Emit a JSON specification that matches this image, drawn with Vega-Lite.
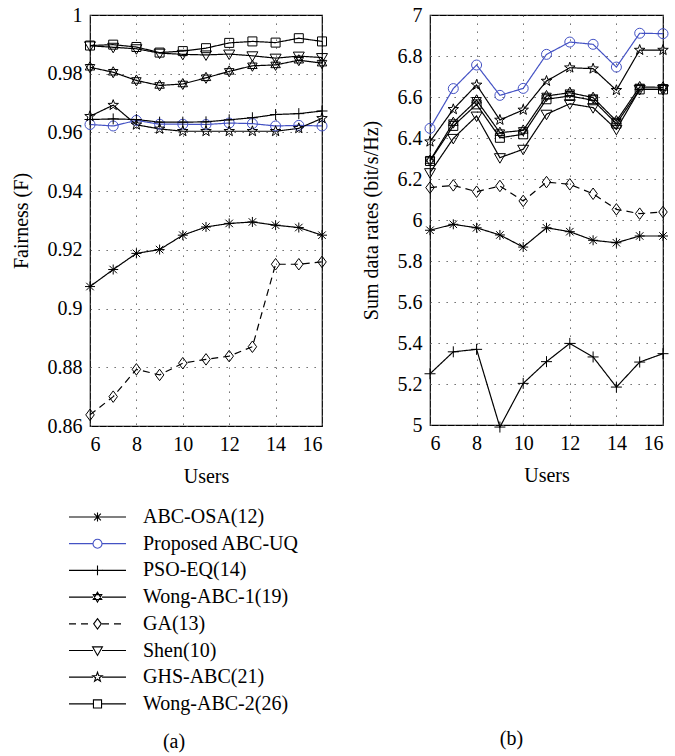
{
  "$schema": "https://vega.github.io/schema/vega-lite/v6.json",
  "background": "white",
  "padding": {"left": 10, "top": 4, "right": 5, "bottom": 5},
  "bounds": "flush",
  "spacing": 108,
  "resolve": {
    "scale": {"color": "independent", "shape": "independent", "stroke": "independent", "strokeDash": "independent"},
    "legend": {"color": "independent", "shape": "independent", "stroke": "independent", "strokeDash": "independent"}
  },
  "datasets": {
    "fair": [
      {"alg": "ABC-OSA(12)", "users": 6, "value": 0.9075}, {"alg": "ABC-OSA(12)", "users": 7, "value": 0.9133}, {"alg": "ABC-OSA(12)", "users": 8, "value": 0.9188}, {"alg": "ABC-OSA(12)", "users": 9, "value": 0.9201}, {"alg": "ABC-OSA(12)", "users": 10, "value": 0.925}, {"alg": "ABC-OSA(12)", "users": 11, "value": 0.9278}, {"alg": "ABC-OSA(12)", "users": 12, "value": 0.929}, {"alg": "ABC-OSA(12)", "users": 13, "value": 0.9295}, {"alg": "ABC-OSA(12)", "users": 14, "value": 0.9284}, {"alg": "ABC-OSA(12)", "users": 15, "value": 0.9276}, {"alg": "ABC-OSA(12)", "users": 16, "value": 0.925},
      {"alg": "Proposed ABC-UQ", "users": 6, "value": 0.9627}, {"alg": "Proposed ABC-UQ", "users": 7, "value": 0.9622}, {"alg": "Proposed ABC-UQ", "users": 8, "value": 0.9641}, {"alg": "Proposed ABC-UQ", "users": 9, "value": 0.9628}, {"alg": "Proposed ABC-UQ", "users": 10, "value": 0.9628}, {"alg": "Proposed ABC-UQ", "users": 11, "value": 0.9627}, {"alg": "Proposed ABC-UQ", "users": 12, "value": 0.9632}, {"alg": "Proposed ABC-UQ", "users": 13, "value": 0.963}, {"alg": "Proposed ABC-UQ", "users": 14, "value": 0.9622}, {"alg": "Proposed ABC-UQ", "users": 15, "value": 0.9624}, {"alg": "Proposed ABC-UQ", "users": 16, "value": 0.9622},
      {"alg": "PSO-EQ(14)", "users": 6, "value": 0.9644}, {"alg": "PSO-EQ(14)", "users": 7, "value": 0.9646}, {"alg": "PSO-EQ(14)", "users": 8, "value": 0.9644}, {"alg": "PSO-EQ(14)", "users": 9, "value": 0.9635}, {"alg": "PSO-EQ(14)", "users": 10, "value": 0.9635}, {"alg": "PSO-EQ(14)", "users": 11, "value": 0.9636}, {"alg": "PSO-EQ(14)", "users": 12, "value": 0.9643}, {"alg": "PSO-EQ(14)", "users": 13, "value": 0.965}, {"alg": "PSO-EQ(14)", "users": 14, "value": 0.9661}, {"alg": "PSO-EQ(14)", "users": 15, "value": 0.9664}, {"alg": "PSO-EQ(14)", "users": 16, "value": 0.9673},
      {"alg": "Wong-ABC-1(19)", "users": 6, "value": 0.9822}, {"alg": "Wong-ABC-1(19)", "users": 7, "value": 0.9805}, {"alg": "Wong-ABC-1(19)", "users": 8, "value": 0.9777}, {"alg": "Wong-ABC-1(19)", "users": 9, "value": 0.976}, {"alg": "Wong-ABC-1(19)", "users": 10, "value": 0.9765}, {"alg": "Wong-ABC-1(19)", "users": 11, "value": 0.9786}, {"alg": "Wong-ABC-1(19)", "users": 12, "value": 0.9808}, {"alg": "Wong-ABC-1(19)", "users": 13, "value": 0.9827}, {"alg": "Wong-ABC-1(19)", "users": 14, "value": 0.983}, {"alg": "Wong-ABC-1(19)", "users": 15, "value": 0.9846}, {"alg": "Wong-ABC-1(19)", "users": 16, "value": 0.9836},
      {"alg": "GA(13)", "users": 6, "value": 0.8638}, {"alg": "GA(13)", "users": 7, "value": 0.87}, {"alg": "GA(13)", "users": 8, "value": 0.8793}, {"alg": "GA(13)", "users": 9, "value": 0.8774}, {"alg": "GA(13)", "users": 10, "value": 0.8814}, {"alg": "GA(13)", "users": 11, "value": 0.8827}, {"alg": "GA(13)", "users": 12, "value": 0.8838}, {"alg": "GA(13)", "users": 13, "value": 0.887}, {"alg": "GA(13)", "users": 14, "value": 0.9151}, {"alg": "GA(13)", "users": 15, "value": 0.9151}, {"alg": "GA(13)", "users": 16, "value": 0.9159},
      {"alg": "Shen(10)", "users": 6, "value": 0.9895}, {"alg": "Shen(10)", "users": 7, "value": 0.989}, {"alg": "Shen(10)", "users": 8, "value": 0.9885}, {"alg": "Shen(10)", "users": 9, "value": 0.987}, {"alg": "Shen(10)", "users": 10, "value": 0.9866}, {"alg": "Shen(10)", "users": 11, "value": 0.9864}, {"alg": "Shen(10)", "users": 12, "value": 0.9867}, {"alg": "Shen(10)", "users": 13, "value": 0.9861}, {"alg": "Shen(10)", "users": 14, "value": 0.9853}, {"alg": "Shen(10)", "users": 15, "value": 0.986}, {"alg": "Shen(10)", "users": 16, "value": 0.9855},
      {"alg": "GHS-ABC(21)", "users": 6, "value": 0.9655}, {"alg": "GHS-ABC(21)", "users": 7, "value": 0.9693}, {"alg": "GHS-ABC(21)", "users": 8, "value": 0.9626}, {"alg": "GHS-ABC(21)", "users": 9, "value": 0.9612}, {"alg": "GHS-ABC(21)", "users": 10, "value": 0.9604}, {"alg": "GHS-ABC(21)", "users": 11, "value": 0.9604}, {"alg": "GHS-ABC(21)", "users": 12, "value": 0.9604}, {"alg": "GHS-ABC(21)", "users": 13, "value": 0.9604}, {"alg": "GHS-ABC(21)", "users": 14, "value": 0.9604}, {"alg": "GHS-ABC(21)", "users": 15, "value": 0.9614}, {"alg": "GHS-ABC(21)", "users": 16, "value": 0.9648},
      {"alg": "Wong-ABC-2(26)", "users": 6, "value": 0.9896}, {"alg": "Wong-ABC-2(26)", "users": 7, "value": 0.9899}, {"alg": "Wong-ABC-2(26)", "users": 8, "value": 0.9891}, {"alg": "Wong-ABC-2(26)", "users": 9, "value": 0.9872}, {"alg": "Wong-ABC-2(26)", "users": 10, "value": 0.9877}, {"alg": "Wong-ABC-2(26)", "users": 11, "value": 0.9887}, {"alg": "Wong-ABC-2(26)", "users": 12, "value": 0.9905}, {"alg": "Wong-ABC-2(26)", "users": 13, "value": 0.991}, {"alg": "Wong-ABC-2(26)", "users": 14, "value": 0.9906}, {"alg": "Wong-ABC-2(26)", "users": 15, "value": 0.9921}, {"alg": "Wong-ABC-2(26)", "users": 16, "value": 0.991}
    ],
    "rate": [
      {"alg": "ABC-OSA(12)", "users": 6, "value": 5.95}, {"alg": "ABC-OSA(12)", "users": 7, "value": 5.979}, {"alg": "ABC-OSA(12)", "users": 8, "value": 5.962}, {"alg": "ABC-OSA(12)", "users": 9, "value": 5.927}, {"alg": "ABC-OSA(12)", "users": 10, "value": 5.868}, {"alg": "ABC-OSA(12)", "users": 11, "value": 5.962}, {"alg": "ABC-OSA(12)", "users": 12, "value": 5.943}, {"alg": "ABC-OSA(12)", "users": 13, "value": 5.901}, {"alg": "ABC-OSA(12)", "users": 14, "value": 5.889}, {"alg": "ABC-OSA(12)", "users": 15, "value": 5.922}, {"alg": "ABC-OSA(12)", "users": 16, "value": 5.922},
      {"alg": "Proposed ABC-UQ", "users": 6, "value": 6.447}, {"alg": "Proposed ABC-UQ", "users": 7, "value": 6.641}, {"alg": "Proposed ABC-UQ", "users": 8, "value": 6.756}, {"alg": "Proposed ABC-UQ", "users": 9, "value": 6.608}, {"alg": "Proposed ABC-UQ", "users": 10, "value": 6.642}, {"alg": "Proposed ABC-UQ", "users": 11, "value": 6.808}, {"alg": "Proposed ABC-UQ", "users": 12, "value": 6.868}, {"alg": "Proposed ABC-UQ", "users": 13, "value": 6.857}, {"alg": "Proposed ABC-UQ", "users": 14, "value": 6.746}, {"alg": "Proposed ABC-UQ", "users": 15, "value": 6.911}, {"alg": "Proposed ABC-UQ", "users": 16, "value": 6.909},
      {"alg": "PSO-EQ(14)", "users": 6, "value": 5.25}, {"alg": "PSO-EQ(14)", "users": 7, "value": 5.357}, {"alg": "PSO-EQ(14)", "users": 8, "value": 5.369}, {"alg": "PSO-EQ(14)", "users": 9, "value": 4.99}, {"alg": "PSO-EQ(14)", "users": 10, "value": 5.203}, {"alg": "PSO-EQ(14)", "users": 11, "value": 5.309}, {"alg": "PSO-EQ(14)", "users": 12, "value": 5.398}, {"alg": "PSO-EQ(14)", "users": 13, "value": 5.332}, {"alg": "PSO-EQ(14)", "users": 14, "value": 5.185}, {"alg": "PSO-EQ(14)", "users": 15, "value": 5.307}, {"alg": "PSO-EQ(14)", "users": 16, "value": 5.348},
      {"alg": "Wong-ABC-1(19)", "users": 6, "value": 6.29}, {"alg": "Wong-ABC-1(19)", "users": 7, "value": 6.475}, {"alg": "Wong-ABC-1(19)", "users": 8, "value": 6.584}, {"alg": "Wong-ABC-1(19)", "users": 9, "value": 6.426}, {"alg": "Wong-ABC-1(19)", "users": 10, "value": 6.437}, {"alg": "Wong-ABC-1(19)", "users": 11, "value": 6.605}, {"alg": "Wong-ABC-1(19)", "users": 12, "value": 6.621}, {"alg": "Wong-ABC-1(19)", "users": 13, "value": 6.597}, {"alg": "Wong-ABC-1(19)", "users": 14, "value": 6.483}, {"alg": "Wong-ABC-1(19)", "users": 15, "value": 6.649}, {"alg": "Wong-ABC-1(19)", "users": 16, "value": 6.647},
      {"alg": "GA(13)", "users": 6, "value": 6.158}, {"alg": "GA(13)", "users": 7, "value": 6.169}, {"alg": "GA(13)", "users": 8, "value": 6.138}, {"alg": "GA(13)", "users": 9, "value": 6.166}, {"alg": "GA(13)", "users": 10, "value": 6.093}, {"alg": "GA(13)", "users": 11, "value": 6.185}, {"alg": "GA(13)", "users": 12, "value": 6.174}, {"alg": "GA(13)", "users": 13, "value": 6.128}, {"alg": "GA(13)", "users": 14, "value": 6.052}, {"alg": "GA(13)", "users": 15, "value": 6.031}, {"alg": "GA(13)", "users": 16, "value": 6.039},
      {"alg": "Shen(10)", "users": 6, "value": 6.231}, {"alg": "Shen(10)", "users": 7, "value": 6.398}, {"alg": "Shen(10)", "users": 8, "value": 6.507}, {"alg": "Shen(10)", "users": 9, "value": 6.304}, {"alg": "Shen(10)", "users": 10, "value": 6.345}, {"alg": "Shen(10)", "users": 11, "value": 6.516}, {"alg": "Shen(10)", "users": 12, "value": 6.567}, {"alg": "Shen(10)", "users": 13, "value": 6.548}, {"alg": "Shen(10)", "users": 14, "value": 6.442}, {"alg": "Shen(10)", "users": 15, "value": 6.637}, {"alg": "Shen(10)", "users": 16, "value": 6.637},
      {"alg": "GHS-ABC(21)", "users": 6, "value": 6.382}, {"alg": "GHS-ABC(21)", "users": 7, "value": 6.54}, {"alg": "GHS-ABC(21)", "users": 8, "value": 6.659}, {"alg": "GHS-ABC(21)", "users": 9, "value": 6.488}, {"alg": "GHS-ABC(21)", "users": 10, "value": 6.537}, {"alg": "GHS-ABC(21)", "users": 11, "value": 6.678}, {"alg": "GHS-ABC(21)", "users": 12, "value": 6.743}, {"alg": "GHS-ABC(21)", "users": 13, "value": 6.738}, {"alg": "GHS-ABC(21)", "users": 14, "value": 6.633}, {"alg": "GHS-ABC(21)", "users": 15, "value": 6.829}, {"alg": "GHS-ABC(21)", "users": 16, "value": 6.829},
      {"alg": "Wong-ABC-2(26)", "users": 6, "value": 6.288}, {"alg": "Wong-ABC-2(26)", "users": 7, "value": 6.459}, {"alg": "Wong-ABC-2(26)", "users": 8, "value": 6.564}, {"alg": "Wong-ABC-2(26)", "users": 9, "value": 6.401}, {"alg": "Wong-ABC-2(26)", "users": 10, "value": 6.418}, {"alg": "Wong-ABC-2(26)", "users": 11, "value": 6.589}, {"alg": "Wong-ABC-2(26)", "users": 12, "value": 6.605}, {"alg": "Wong-ABC-2(26)", "users": 13, "value": 6.584}, {"alg": "Wong-ABC-2(26)", "users": 14, "value": 6.47}, {"alg": "Wong-ABC-2(26)", "users": 15, "value": 6.637}, {"alg": "Wong-ABC-2(26)", "users": 16, "value": 6.637}
    ]
  },
  "hconcat": [
    {
      "width": 232,
      "height": 411,
      "data": {"name": "fair"},
      "title": {"text": "(a)", "orient": "bottom", "frame": "group", "anchor": "middle", "offset": 18, "dx": -32},
      "encoding": {
        "x": {"field": "users", "type": "quantitative", "scale": {"domain": [6, 16], "nice": false, "zero": false}, "axis": {"values": [6, 8, 10, 12, 14, 16], "title": "Users"}},
        "y": {"field": "value", "type": "quantitative", "scale": {"domain": [0.86, 1], "nice": false, "zero": false}, "axis": {"values": [0.86, 0.88, 0.9, 0.92, 0.94, 0.96, 0.98, 1], "format": "~g", "title": "Fairness (F)"}}
      },
      "layer": [
        {"mark": {"type": "line", "strokeWidth": 1.2, "clip": false},
         "encoding": {
           "stroke": {"field": "alg", "type": "nominal",
             "scale": {"domain": ["ABC-OSA(12)", "Proposed ABC-UQ", "PSO-EQ(14)", "Wong-ABC-1(19)", "GA(13)", "Shen(10)", "GHS-ABC(21)", "Wong-ABC-2(26)", "~"], "range": ["#000000", "#4452c4", "#000000", "#000000", "#000000", "#000000", "#000000", "#000000", "#000000"]},
             "legend": {"values": ["ABC-OSA(12)", "Proposed ABC-UQ", "PSO-EQ(14)", "Wong-ABC-1(19)", "GA(13)", "Shen(10)", "GHS-ABC(21)", "Wong-ABC-2(26)"], "symbolType": "M-6.33,0L-1,0M1,0L6.33,0", "labelOpacity": 0, "symbolStrokeWidth": 1.2}},
           "strokeDash": {"field": "alg", "type": "nominal",
             "scale": {"domain": ["ABC-OSA(12)", "Proposed ABC-UQ", "PSO-EQ(14)", "Wong-ABC-1(19)", "GA(13)", "Shen(10)", "GHS-ABC(21)", "Wong-ABC-2(26)", "~"], "range": [[1, 0], [1, 0], [1, 0], [1, 0], [7, 5], [1, 0], [1, 0], [1, 0], [1, 0]]},
             "legend": {"values": ["ABC-OSA(12)", "Proposed ABC-UQ", "PSO-EQ(14)", "Wong-ABC-1(19)", "GA(13)", "Shen(10)", "GHS-ABC(21)", "Wong-ABC-2(26)"], "symbolType": "M-6.33,0L-1,0M1,0L6.33,0", "labelOpacity": 0, "symbolStrokeWidth": 1.2}}
         }},
        {"mark": {"type": "point", "filled": false, "size": 100, "strokeWidth": 1, "opacity": 1},
         "encoding": {
          "color": {"field": "alg", "type": "nominal",
            "scale": {"domain": ["ABC-OSA(12)", "Proposed ABC-UQ", "PSO-EQ(14)", "Wong-ABC-1(19)", "GA(13)", "Shen(10)", "GHS-ABC(21)", "Wong-ABC-2(26)"], "range": ["#000000", "#4452c4", "#000000", "#000000", "#000000", "#000000", "#000000", "#000000"]},
            "legend": {"symbolFillColor": "transparent"}},
          "shape": {"field": "alg", "type": "nominal",
            "scale": {"domain": ["ABC-OSA(12)", "Proposed ABC-UQ", "PSO-EQ(14)", "Wong-ABC-1(19)", "GA(13)", "Shen(10)", "GHS-ABC(21)", "Wong-ABC-2(26)"], "range": ["M-1,0L1,0M0,-1L0,1M-0.75,-0.75L0.75,0.75M-0.75,0.75L0.75,-0.75", "circle", "M-1.1,0L1.1,0M0,-1.1L0,1.1", "M0,-1.1L0.95,0.55L-0.95,0.55ZM0,1.1L0.95,-0.55L-0.95,-0.55Z", "M0,-1.15L0.85,0L0,1.15L-0.85,0Z", "M-1.1,-0.8L1.1,-0.8L0,1.1Z", "M0,-1.1L0.26,-0.36L1.05,-0.34L0.42,0.14L0.65,0.89L0,0.44L-0.65,0.89L-0.42,0.14L-1.05,-0.34L-0.26,-0.36Z", "M-0.9,-0.9L0.9,-0.9L0.9,0.9L-0.9,0.9Z"]},
            "legend": {"symbolFillColor": "transparent"}}
         }}
      ]
    },
    {
      "width": 233,
      "height": 410,
      "data": {"name": "rate"},
      "title": {"text": "(b)", "orient": "bottom", "frame": "group", "anchor": "middle", "offset": 244, "dx": -35},
      "encoding": {
        "x": {"field": "users", "type": "quantitative", "scale": {"domain": [6, 16], "nice": false, "zero": false}, "axis": {"values": [6, 8, 10, 12, 14, 16], "title": "Users"}},
        "y": {"field": "value", "type": "quantitative", "scale": {"domain": [5, 7], "nice": false, "zero": false}, "axis": {"values": [5, 5.2, 5.4, 5.6, 5.8, 6, 6.2, 6.4, 6.6, 6.8, 7], "format": "~g", "title": "Sum data rates (bit/s/Hz)"}}
      },
      "layer": [
        {"mark": {"type": "line", "strokeWidth": 1.2, "clip": false},
         "encoding": {
           "stroke": {"field": "alg", "type": "nominal", "legend": null,
             "scale": {"domain": ["ABC-OSA(12)", "Proposed ABC-UQ", "PSO-EQ(14)", "Wong-ABC-1(19)", "GA(13)", "Shen(10)", "GHS-ABC(21)", "Wong-ABC-2(26)"], "range": ["#000000", "#4452c4", "#000000", "#000000", "#000000", "#000000", "#000000", "#000000"]}},
           "strokeDash": {"field": "alg", "type": "nominal", "legend": null,
             "scale": {"domain": ["ABC-OSA(12)", "Proposed ABC-UQ", "PSO-EQ(14)", "Wong-ABC-1(19)", "GA(13)", "Shen(10)", "GHS-ABC(21)", "Wong-ABC-2(26)"], "range": [[1, 0], [1, 0], [1, 0], [1, 0], [7, 5], [1, 0], [1, 0], [1, 0]]}}
         }},
        {"mark": {"type": "point", "filled": false, "size": 100, "strokeWidth": 1, "opacity": 1},
         "encoding": {
          "color": {"field": "alg", "type": "nominal", "legend": null,
            "scale": {"domain": ["ABC-OSA(12)", "Proposed ABC-UQ", "PSO-EQ(14)", "Wong-ABC-1(19)", "GA(13)", "Shen(10)", "GHS-ABC(21)", "Wong-ABC-2(26)"], "range": ["#000000", "#4452c4", "#000000", "#000000", "#000000", "#000000", "#000000", "#000000"]}},
          "shape": {"field": "alg", "type": "nominal", "legend": null,
            "scale": {"domain": ["ABC-OSA(12)", "Proposed ABC-UQ", "PSO-EQ(14)", "Wong-ABC-1(19)", "GA(13)", "Shen(10)", "GHS-ABC(21)", "Wong-ABC-2(26)"], "range": ["M-1,0L1,0M0,-1L0,1M-0.75,-0.75L0.75,0.75M-0.75,0.75L0.75,-0.75", "circle", "M-1.1,0L1.1,0M0,-1.1L0,1.1", "M0,-1.1L0.95,0.55L-0.95,0.55ZM0,1.1L0.95,-0.55L-0.95,-0.55Z", "M0,-1.15L0.85,0L0,1.15L-0.85,0Z", "M-1.1,-0.8L1.1,-0.8L0,1.1Z", "M0,-1.1L0.26,-0.36L1.05,-0.34L0.42,0.14L0.65,0.89L0,0.44L-0.65,0.89L-0.42,0.14L-1.05,-0.34L-0.26,-0.36Z", "M-0.9,-0.9L0.9,-0.9L0.9,0.9L-0.9,0.9Z"]}}
         }}
      ]
    }
  ],
  "config": {
    "font": "Liberation Serif",
    "view": {"stroke": "#000000", "strokeWidth": 1.2},
    "title": {"font": "Liberation Serif", "fontSize": 20, "fontWeight": "normal", "color": "#000000"},
    "axis": {
      "labelFont": "Liberation Serif", "labelFontSize": 20, "labelColor": "#000000", "labelPadding": 8,
      "titleFont": "Liberation Serif", "titleFontSize": 20, "titleFontWeight": "normal", "titleColor": "#000000",
      "domain": false, "ticks": false, "tickSize": 0,
      "grid": true, "gridColor": "#555555", "gridDash": [1.3, 6.7], "gridWidth": 1, "gridOpacity": 1
    },
    "axisX": {"titlePadding": 12},
    "axisY": {"titlePadding": 16},
    "legend": {
      "orient": "none", "legendX": -2.5, "legendY": 492, "title": null, "padding": 0,
      "labelFont": "Liberation Serif", "labelFontSize": 20, "labelColor": "#000000", "labelLimit": 400,
      "symbolSize": 81, "symbolStrokeWidth": 1.1, "rowPadding": 6.7, "labelOffset": 35.5, "symbolOffset": 0
    }
  }
}
